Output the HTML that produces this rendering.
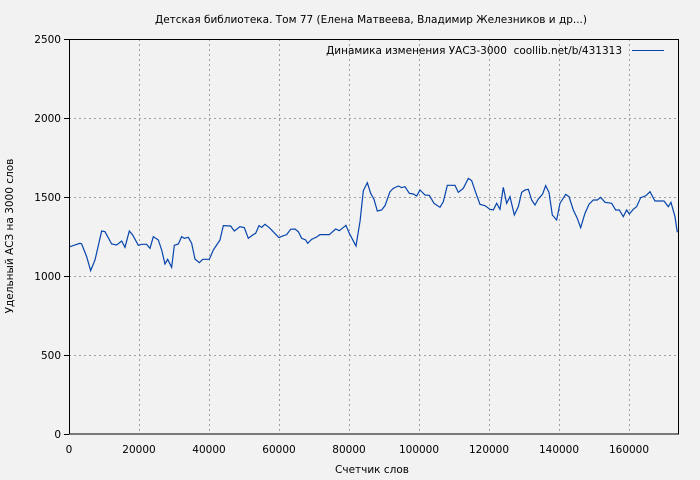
<!DOCTYPE html>
<html><head><meta charset="utf-8"><style>
body{margin:0;background:#f2f2f2;}
svg{display:block;font-family:"DejaVu Sans","Liberation Sans",sans-serif;}
</style></head><body>
<svg width="700" height="480" viewBox="0 0 700 480" xmlns="http://www.w3.org/2000/svg">
<rect width="700" height="480" fill="#f2f2f2"/>
<g stroke="#a0a0a0" stroke-dasharray="2,3" stroke-width="1">
<line x1="69" y1="355.5" x2="679" y2="355.5"/>
<line x1="69" y1="276.5" x2="679" y2="276.5"/>
<line x1="69" y1="197.5" x2="679" y2="197.5"/>
<line x1="69" y1="118.5" x2="679" y2="118.5"/>
<line x1="139.5" y1="39" x2="139.5" y2="434"/>
<line x1="209.5" y1="39" x2="209.5" y2="434"/>
<line x1="279.5" y1="39" x2="279.5" y2="434"/>
<line x1="349.5" y1="39" x2="349.5" y2="434"/>
<line x1="419.5" y1="39" x2="419.5" y2="434"/>
<line x1="489.5" y1="39" x2="489.5" y2="434"/>
<line x1="559.5" y1="39" x2="559.5" y2="434"/>
<line x1="629.5" y1="39" x2="629.5" y2="434"/>
</g>
<g stroke="#000" stroke-width="1">
<rect x="69.5" y="39.5" width="609" height="394.5" fill="none"/>
<line x1="64" y1="434.5" x2="69" y2="434.5"/><line x1="64" y1="355.5" x2="69" y2="355.5"/>
<line x1="64" y1="276.5" x2="69" y2="276.5"/><line x1="64" y1="197.5" x2="69" y2="197.5"/>
<line x1="64" y1="118.5" x2="69" y2="118.5"/><line x1="64" y1="39.5" x2="69" y2="39.5"/>
</g>
<g font-size="10.5" fill="#000" text-anchor="end">
<text x="61" y="438">0</text><text x="61" y="359">500</text><text x="61" y="280">1000</text>
<text x="61" y="201">1500</text><text x="61" y="122">2000</text><text x="61" y="43">2500</text>
</g>
<g font-size="10.5" fill="#000" text-anchor="middle">
<text x="69" y="453">0</text><text x="139" y="453">20000</text><text x="209" y="453">40000</text>
<text x="279" y="453">60000</text><text x="349" y="453">80000</text><text x="419" y="453">100000</text>
<text x="489" y="453">120000</text><text x="559" y="453">140000</text><text x="629" y="453">160000</text>
<text x="372" y="473">Счетчик слов</text>
<text x="371" y="23">Детская библиотека. Том 77 (Елена Матвеева, Владимир Железников и др...)</text>
<text transform="translate(13,236) rotate(-90)">Удельный АСЗ на 3000 слов</text>
</g>
<text x="622" y="54" font-size="10.5" text-anchor="end" xml:space="preserve">Динамика изменения УАСЗ-3000  coollib.net/b/431313</text>
<line x1="632" y1="50.5" x2="664" y2="50.5" stroke="#0645ad" stroke-width="1"/>
<g fill="none" stroke="#0645ad" stroke-width="1.2">
<polyline vector-effect="non-scaling-stroke" transform="translate(60,160) scale(0.3333)" points="30,260 45,255 60,250 65,252 80,290 92,332 105,300 125,213 135,215 155,252 170,255 185,243 195,262 208,213 218,225 235,256 245,253 260,253 270,265 280,230 295,240 305,270 315,312 323,298 335,322 343,256 355,252 365,230 373,235 385,232 395,250 405,297 418,308 428,298 448,298 460,270 480,240 490,197 512,198 523,213 540,200 553,203 565,235 578,225 587,220 597,197 605,202 615,193 628,203 657,233 668,228 680,224 692,208 705,207 715,215 725,235 737,240 743,250 755,238 770,231 780,224 808,224 827,207 838,212 858,196 868,220 888,258 900,185"/>
<polyline vector-effect="non-scaling-stroke" transform="translate(360,160) scale(0.3333)" points="0,185 10,92 22,68 32,100 42,118 52,153 65,150 75,137 90,95 100,85 115,78 125,83 135,80 148,100 160,102 170,108 180,90 195,105 208,106 222,130 240,142 250,125 262,76 285,76 295,97 310,85 325,55 335,62 348,100 360,133 375,137 390,148 400,150 410,130 420,148 430,82 440,130 450,110 463,165 475,140 485,97 495,90 505,88 515,120 525,135 535,117 548,102 557,77 567,97 577,165 590,180 600,130 617,103 627,110 640,150 652,175 662,203 675,160 687,133 700,120 712,120 722,112 735,127 755,130 767,150 778,150 790,170 800,150 808,162 820,148 830,140 842,113 858,107 870,95 885,123 912,123 925,140 933,127 945,170 952,217"/>
</g>
</svg>
</body></html>
